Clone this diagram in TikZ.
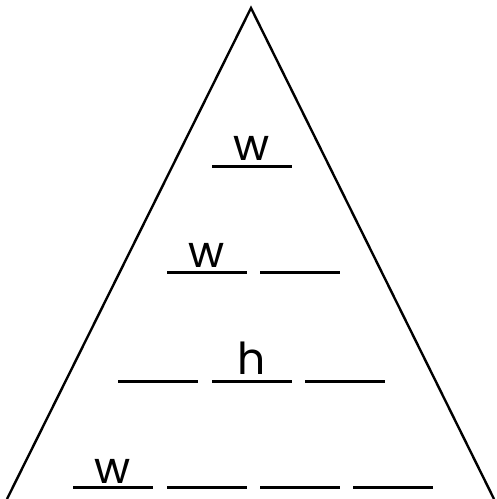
\documentclass[tikz,border=0pt]{standalone}
\usepackage{fontspec}
\setmainfont{Poppins}
\begin{document}
\begin{tikzpicture}[x=1pt,y=1pt,
  blank/.style={line width=3pt},
  letter/.style={inner sep=0pt,anchor=base,font=\fontsize{44}{44}\selectfont}]
\useasboundingbox (0,0) rectangle (497,499);
\begin{scope}
\clip (0,0) rectangle (497,499);
\coordinate (apex) at (251,491);
\coordinate (bl) at (7,0);
\coordinate (br) at (494,0);
\draw[line width=2.4pt,line join=miter] (bl) -- (apex) -- (br);
\end{scope}
% row 1
\draw[blank] (212,332) -- (292,332);
\node[letter] (w1) at (252,338) {w};
% row 2
\draw[blank] (167,226) -- (247,226);
\draw[blank] (260,226) -- (340,226);
\node[letter] (w2) at (207,231) {w};
% row 3
\draw[blank] (118,117) -- (198,117);
\draw[blank] (212,117) -- (292,117);
\draw[blank] (305,117) -- (385,117);
\node[letter] (h3) at (252,124) {h};
% row 4
\draw[blank] (73,11) -- (153,11);
\draw[blank] (167,11) -- (247,11);
\draw[blank] (260,11) -- (340,11);
\draw[blank] (353,11) -- (433,11);
\node[letter] (w4) at (113,16) {w};
\end{tikzpicture}
\end{document}
